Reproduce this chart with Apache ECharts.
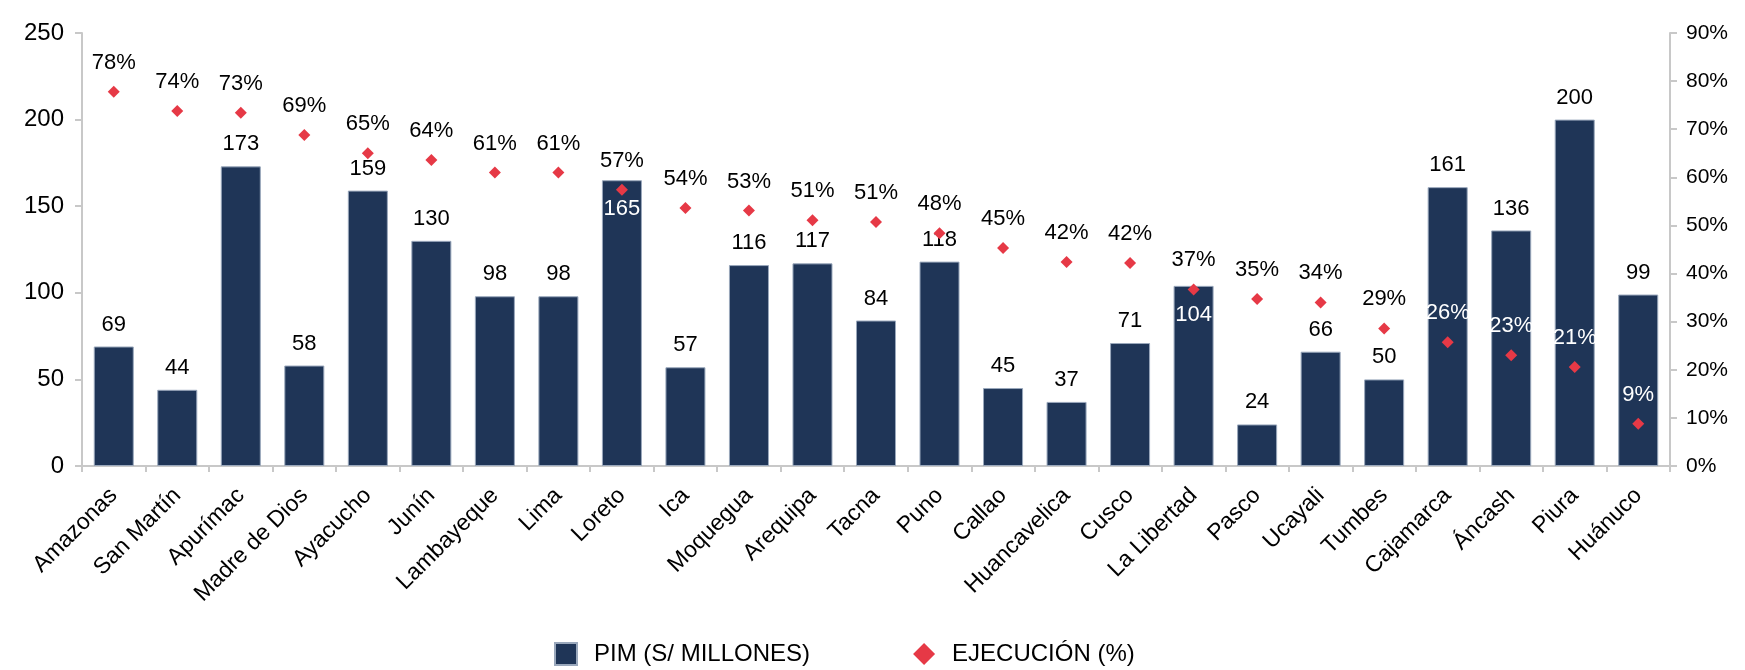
<!DOCTYPE html>
<html>
<head>
<meta charset="utf-8">
<script src="https://cdn.jsdelivr.net/npm/echarts@6/dist/echarts.min.js"></script>
<style>
html,body{margin:0;padding:0;background:#fff;}
#chart{width:1745px;height:670px;}
</style>
</head>
<body>
<div id="chart"></div>
<script>
const categories = ['Amazonas','San Martín','Apurímac','Madre de Dios','Ayacucho','Junín','Lambayeque','Lima','Loreto','Ica','Moquegua','Arequipa','Tacna','Puno','Callao','Huancavelica','Cusco','La Libertad','Pasco','Ucayali','Tumbes','Cajamarca','Áncash','Piura','Huánuco'];
const pimValues = [69,44,173,58,159,130,98,98,165,57,116,117,84,118,45,37,71,104,24,66,50,161,136,200,99];
const ejecucionValues = [77.8,73.8,73.4,68.8,65.0,63.6,61.0,61.0,57.4,53.6,53.1,51.1,50.7,48.4,45.3,42.4,42.2,36.7,34.7,34.0,28.6,25.7,23.0,20.6,8.8];
const leftTicks = {min:0, max:250, interval:50};
const rightTicks = {min:0, max:90, interval:10};

const barInsideLabel = ['Loreto','La Libertad'];
const pctWhiteLabel = ['Cajamarca','Áncash','Piura','Huánuco'];

const BAR = '#1F3557';
const RED = '#E63946';
const FONT = '"Liberation Sans", Arial, sans-serif';

const barData = pimValues.map((v,i)=>{
  const o = {value:v};
  if (barInsideLabel.includes(categories[i])) {
    o.label = {position:'insideTop', color:'#fff', distance:18};
  }
  return o;
});
const pctData = ejecucionValues.map((v,i)=>{
  const o = {value:v};
  if (pctWhiteLabel.includes(categories[i])) {
    o.label = {color:'#fff'};
  }
  return o;
});

const chart = echarts.init(document.getElementById('chart'));
chart.setOption({
  animation:false,
  textStyle:{fontFamily:FONT},
  grid:{left:82, right:75, top:33, bottom:204, containLabel:false},
  legend:{
    left:549, top:637,
    itemGap:103, itemWidth:22, itemHeight:22,
    textStyle:{fontSize:24, color:'#000', fontFamily:FONT, padding:[0,0,0,12]},
    data:[
      {name:'PIM (S/ MILLONES)', icon:'rect'},
      {name:'EJECUCIÓN (%)', icon:'diamond'}
    ]
  },
  xAxis:{
    type:'category',
    data:categories,
    axisLine:{lineStyle:{color:'#C8C8C8', width:2}},
    axisTick:{show:true, length:6, lineStyle:{color:'#C8C8C8', width:2}},
    axisLabel:{rotate:45, fontSize:23, color:'#000', margin:26, interval:0, fontFamily:FONT}
  },
  yAxis:[
    {
      type:'value', min:leftTicks.min, max:leftTicks.max, interval:leftTicks.interval,
      splitLine:{show:false},
      axisLine:{show:true, lineStyle:{color:'#C8C8C8', width:2}},
      axisTick:{show:true, length:7, lineStyle:{color:'#C8C8C8', width:2}},
      axisLabel:{fontSize:24, color:'#000', margin:18, fontFamily:FONT}
    },
    {
      type:'value', min:rightTicks.min, max:rightTicks.max, interval:rightTicks.interval,
      position:'right',
      splitLine:{show:false},
      axisLine:{show:true, lineStyle:{color:'#C8C8C8', width:2}},
      axisTick:{show:true, length:7, lineStyle:{color:'#C8C8C8', width:2}},
      axisLabel:{fontSize:21, color:'#000', margin:16, formatter:'{value}%', fontFamily:FONT}
    }
  ],
  series:[
    {
      name:'PIM (S/ MILLONES)',
      type:'bar',
      yAxisIndex:0,
      barWidth:'63%',
      data:barData,
      itemStyle:{color:BAR, borderColor:'#9AA8BC', borderWidth:1},
      label:{show:true, position:'top', distance:11, fontSize:22, color:'#000', fontFamily:FONT},
      z:2
    },
    {
      name:'EJECUCIÓN (%)',
      type:'scatter',
      yAxisIndex:1,
      symbol:'diamond',
      symbolSize:12,
      data:pctData,
      itemStyle:{color:RED, opacity:1},
      label:{show:true, position:'top', distance:12, fontSize:22, color:'#000', fontFamily:FONT,
        formatter:p=>Math.round(p.value)+'%'},
      z:5
    }
  ]
});
</script>
</body>
</html>
